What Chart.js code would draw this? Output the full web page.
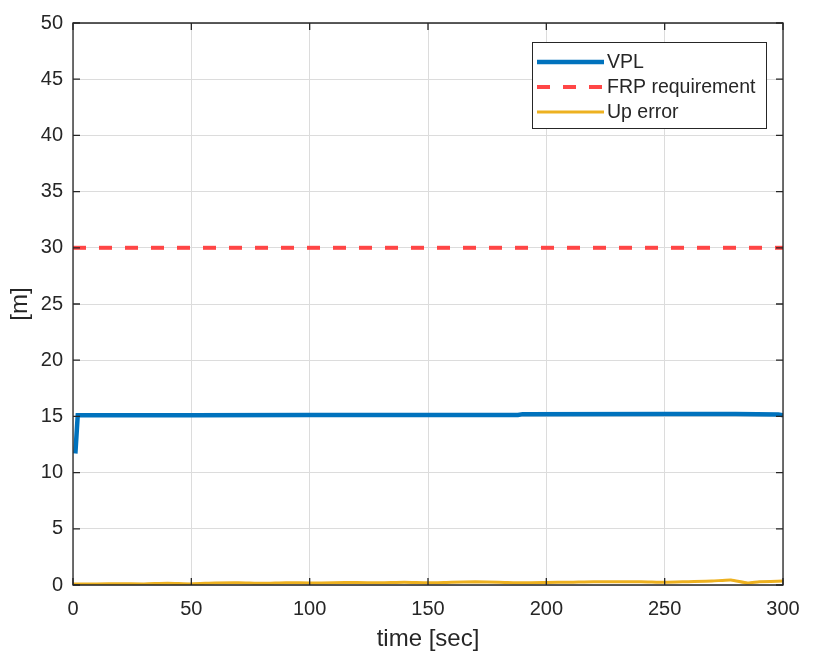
<!DOCTYPE html>
<html>
<head>
<meta charset="utf-8">
<script src="https://cdn.jsdelivr.net/npm/chart.js@4"></script>
<style>
  html, body { margin: 0; padding: 0; background: #fff; }
  #wrap { width: 833px; height: 663px; }
</style>
</head>
<body>
<div id="wrap"><canvas id="chart" width="833" height="663"></canvas></div>
<script>
// values
let vplTime = [1, 2, 50, 100, 150, 188, 190, 250, 280, 298, 300];
let vplValue = [11.7, 15.1, 15.1, 15.12, 15.12, 15.12, 15.2, 15.22, 15.22, 15.18, 15.1];

let frpTime = [0, 300];
let frpValue = [30, 30];

let upTime = [0, 10, 20, 30, 40, 50, 60, 70, 80, 90, 100, 110, 120, 130, 140, 150, 160, 170, 180, 190, 200, 210, 220, 230, 240, 250, 260, 270, 278, 285, 290, 300];
let upValue = [0.1, 0.1, 0.12, 0.1, 0.15, 0.1, 0.18, 0.2, 0.15, 0.2, 0.18, 0.2, 0.22, 0.2, 0.25, 0.2, 0.25, 0.28, 0.25, 0.2, 0.22, 0.25, 0.3, 0.28, 0.3, 0.25, 0.3, 0.35, 0.45, 0.18, 0.3, 0.35];

let xTicks = [0, 50, 100, 150, 200, 250, 300];
let yTicks = [0, 5, 10, 15, 20, 25, 30, 35, 40, 45, 50];

let labels = ["VPL", "FRP requirement", "Up error"];

function pts(xs, ys) {
  return xs.map((x, i) => ({ x: x, y: ys[i] }));
}

let textColor = "#262626";
let fontFamily = "'Liberation Sans', Arial, Helvetica, sans-serif";

// box around the axes and inward tick marks, MATLAB style
let boxPlugin = {
  id: "box",
  afterDraw(chart) {
    let ctx = chart.ctx;
    let a = chart.chartArea;
    let xs = chart.scales.x, ys = chart.scales.y;
    ctx.save();
    ctx.strokeStyle = textColor;
    ctx.lineWidth = 1.3;
    ctx.beginPath();
    ctx.rect(a.left, a.top, a.right - a.left, a.bottom - a.top);
    ctx.stroke();
    let len = 7;
    ctx.beginPath();
    xTicks.forEach(v => {
      let px = xs.getPixelForValue(v);
      ctx.moveTo(px, a.bottom); ctx.lineTo(px, a.bottom - len);
      ctx.moveTo(px, a.top); ctx.lineTo(px, a.top + len);
    });
    yTicks.forEach(v => {
      let py = ys.getPixelForValue(v);
      ctx.moveTo(a.left, py); ctx.lineTo(a.left + len, py);
      ctx.moveTo(a.right, py); ctx.lineTo(a.right - len, py);
    });
    ctx.stroke();
    ctx.restore();
  }
};

// legend box in the upper right corner
let legendPlugin = {
  id: "boxLegend",
  afterDraw(chart) {
    let ctx = chart.ctx;
    let left = 532, top = 42, w = 234, h = 86;
    ctx.save();
    ctx.fillStyle = "#fff";
    ctx.fillRect(left, top, w, h);
    ctx.strokeStyle = textColor;
    ctx.lineWidth = 1;
    ctx.strokeRect(left + 0.5, top + 0.5, w, h);
    ctx.font = "19.5px " + fontFamily;
    ctx.textBaseline = "middle";
    chart.data.datasets.forEach((ds, i) => {
      let y = 62 + i * 25;
      ctx.strokeStyle = ds.borderColor;
      ctx.lineWidth = ds.borderWidth;
      ctx.setLineDash(ds.borderDash || []);
      ctx.beginPath();
      ctx.moveTo(537, y);
      ctx.lineTo(604, y);
      ctx.stroke();
      ctx.setLineDash([]);
      ctx.fillStyle = textColor;
      ctx.fillText(ds.label, 607, y + 1);
    });
    ctx.restore();
  }
};

new Chart(document.getElementById("chart"), {
  type: "line",
  data: {
    datasets: [
      {
        label: labels[0],
        data: pts(vplTime, vplValue),
        borderColor: "#0072BD",
        borderWidth: 4.5,
        pointRadius: 0,
        tension: 0,
      },
      {
        label: labels[1],
        data: pts(frpTime, frpValue),
        borderColor: "rgba(255, 60, 60, 0.95)",
        borderWidth: 4,
        borderDash: [13, 13],
        pointRadius: 0,
      },
      {
        label: labels[2],
        data: pts(upTime, upValue),
        borderColor: "#EDB120",
        borderWidth: 3,
        pointRadius: 0,
        tension: 0.2,
      },
    ],
  },
  options: {
    responsive: false,
    animation: false,
    layout: { padding: { top: 23, right: 50, left: 0, bottom: 0 } },
    scales: {
      x: {
        type: "linear",
        min: 0,
        max: 300,
        afterBuildTicks: (s) => { s.ticks = xTicks.map(v => ({ value: v })); },
        afterFit: (s) => { s.height = 78; },
        grid: { color: "#dcdcdc", lineWidth: 1, drawTicks: false },
        border: { display: false },
        ticks: { color: textColor, font: { size: 20, family: fontFamily }, padding: 12, maxRotation: 0 },
        title: { display: true, text: "time [sec]", color: textColor, font: { size: 24, family: fontFamily }, padding: { top: 0, bottom: 9 } },
      },
      y: {
        min: 0,
        max: 50,
        afterBuildTicks: (s) => { s.ticks = yTicks.map(v => ({ value: v })); },
        afterFit: (s) => { s.width = 73; },
        grid: { color: "#dcdcdc", lineWidth: 1, drawTicks: false },
        border: { display: false },
        ticks: { color: textColor, font: { size: 20, family: fontFamily }, padding: 10 },
        title: { display: true, text: "[m]", color: textColor, font: { size: 24, family: fontFamily }, padding: { top: 6, bottom: 0 } },
      },
    },
    plugins: {
      legend: { display: false },
      tooltip: { enabled: false },
    },
  },
  plugins: [boxPlugin, legendPlugin],
});
</script>
</body>
</html>
